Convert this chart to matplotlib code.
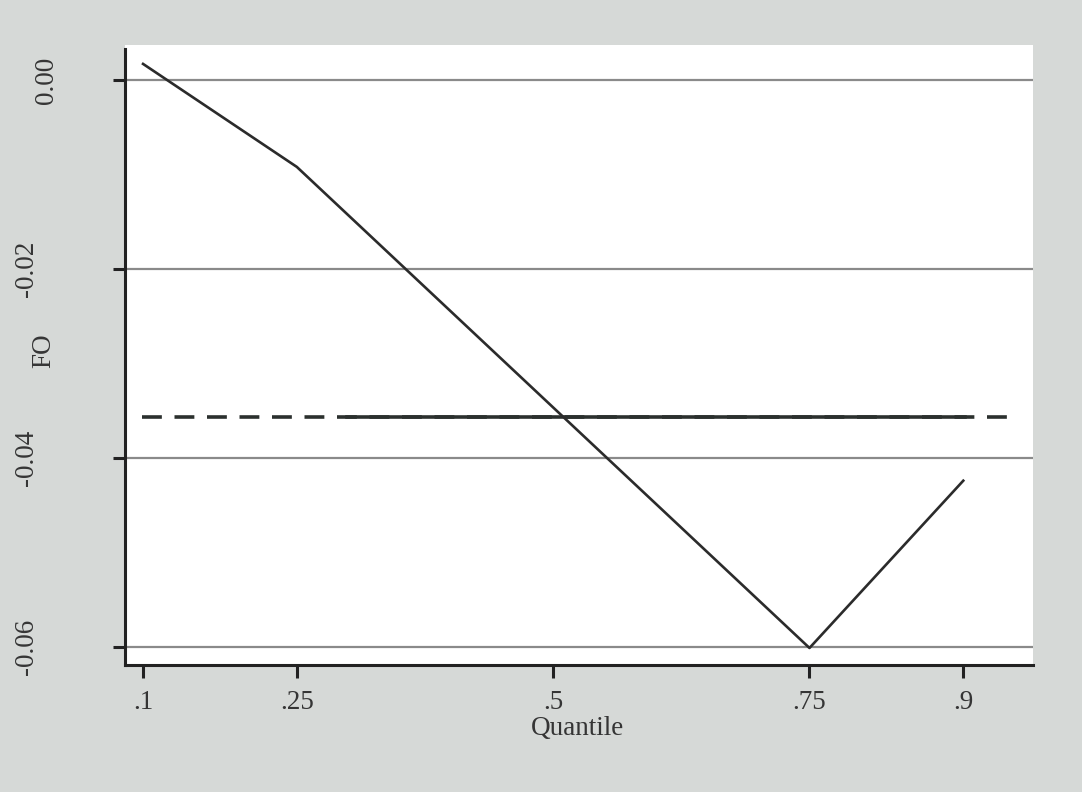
import matplotlib
matplotlib.use("Agg")
import matplotlib.pyplot as plt

# Data
quantiles = [0.1, 0.25, 0.75, 0.9]
fo_values = [0.0017, -0.0092, -0.0601, -0.0424]
ols_value = -0.0357
ols_dashed_span = [0.099, 0.949]
ols_solid_span = [0.299, 0.902]
xticks = [0.1, 0.25, 0.5, 0.75, 0.9]
xtick_labels = [".1", ".25", ".5", ".75", ".9"]
yticks = [0.0, -0.02, -0.04, -0.06]
ytick_labels = ["0.00", "-0.02", "-0.04", "-0.06"]

plt.rcParams['font.family'] = ['Liberation Serif', 'DejaVu Serif']

W, H = 1082, 792
fig = plt.figure(figsize=(W/100, H/100), dpi=100)
fig.patch.set_facecolor('#d6d9d7')
L, R, T, B = 125, 1033, 45, 665
ax = fig.add_axes([L/W, 1-B/H, (R-L)/W, (B-T)/H])
ax.set_facecolor('white')

ax.set_xlim(0.0824, 0.968)
ax.set_ylim(-0.0619, 0.0037)

for y in yticks:
    ax.axhline(y, color='#8a8a8a', lw=1.6, zorder=1)

ax.plot(ols_dashed_span, [ols_value]*2, color='#2b302e', lw=2.6,
        dashes=(5.5, 3.5), zorder=2)
ax.plot(ols_solid_span, [ols_value]*2, color='#2b302e', lw=2.6, zorder=3)
ax.plot(quantiles, fo_values, color='#2b2b2b', lw=1.9, zorder=4)

ax.set_xticks(xticks)
ax.set_xticklabels(xtick_labels)
ax.set_yticks(yticks)
ax.set_yticklabels([])

txtcol = '#353535'
fs = 19.5
# y tick labels, placed like the scanned original (first one sits further right)
label_centers_px = [47, 27, 27, 27]
for val, lab, cx in zip(yticks, ytick_labels, label_centers_px):
    ax.text((cx - L)/(R - L), val, lab, transform=ax.get_yaxis_transform(),
            rotation=90, ha='center', va='center', fontsize=fs, color=txtcol)

for s in ['top', 'right']:
    ax.spines[s].set_visible(False)
for s in ['left', 'bottom']:
    ax.spines[s].set_linewidth(2.2)
    ax.spines[s].set_color('#222222')
ax.spines['left'].set_bounds(-0.0619, 0.0033)

ax.tick_params(axis='both', length=9, width=2.2, color='#222222',
               labelsize=fs, labelcolor=txtcol)
ax.tick_params(axis='x', pad=9)

ax.set_xlabel('Quantile', fontsize=fs, color=txtcol)
ax.xaxis.label.set_va('baseline')
ax.xaxis.set_label_coords((578 - L)/(R - L), (B - 735)/(B - T))
ax.set_ylabel('FO', fontsize=fs, color=txtcol)
ax.yaxis.label.set_va('center')
ax.yaxis.set_label_coords((44 - L)/(R - L), (B - 351)/(B - T))

fig.savefig('out.png', dpi=100, facecolor=fig.get_facecolor())
